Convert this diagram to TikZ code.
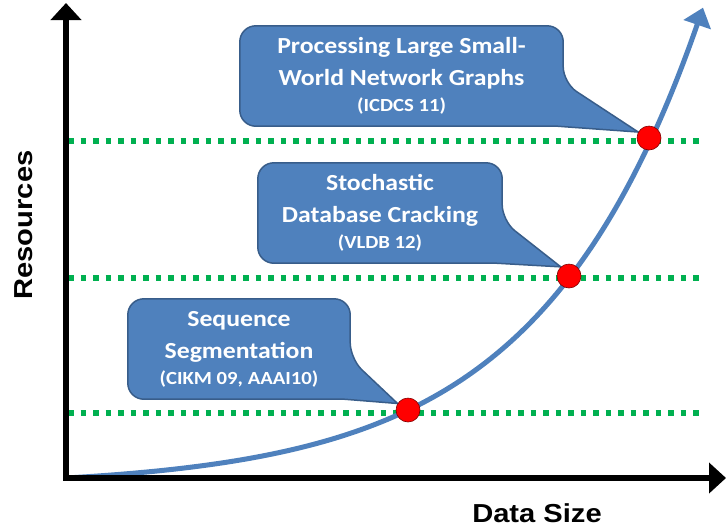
\documentclass[tikz,border=0pt]{standalone}
\usepackage{fontspec}
\setmainfont{Carlito}[FakeStretch=1.12]
\newfontfamily\axisfont{Liberation Sans}[FakeStretch=1.12]
\usetikzlibrary{arrows.meta,calc,backgrounds}
\definecolor{offblue}{HTML}{4F81BD}
\definecolor{offedge}{HTML}{385D8A}
\definecolor{offgreen}{HTML}{00B050}

\begin{document}
\begin{tikzpicture}[x=1pt, y=-1pt,
	axis/.style={line width=6pt, {Triangle[length=17pt,width=30pt]}-{Triangle[length=17pt,width=30pt]}},
	level/.style={offgreen, line width=5.5pt, dash pattern=on 5.5pt off 7pt},
	growth/.style={offblue, line width=5pt, -{Triangle[length=18pt,width=28pt]}},
	hit/.style={circle, fill=red, draw=red!50!black, line width=0.6pt, minimum size=24pt, inner sep=0pt},
	paper/.style={text=white, font=\fontsize{23}{32}\selectfont\bfseries, align=center, inner sep=0pt},
	bubble/.style={fill=offblue, draw=offedge, line width=1.5pt},
	axlabel/.style={font=\axisfont\bfseries\fontsize{26}{30}\selectfont}]
	 \useasboundingbox (0,0) rectangle (727,531);

	 \coordinate (origin) at (66,478);
	 \coordinate (ytop) at (66,3);
	 \coordinate (xend) at (726,478);

	 \foreach \y/\n in {141/3, 278/2, 413/1} {
	   \coordinate (gl\n) at (68,\y);
	   \coordinate (gr\n) at (705,\y);
	   \draw[level] (gl\n) -- (gr\n);
	 }

	 \draw[growth] plot[domain=66:703, samples=90, smooth] (\x, {478 - 9.27*(exp(0.0062*(\x-66))-1)});
	 \draw[axis] (ytop) -- (origin) -- (xend);

	 \node[axlabel, rotate=90] (resources) at (24,225) {Resources};
	 \node[axlabel] (datasize) at (537,513) {Data Size};

	 \node[hit] (hit1) at (408,410) {};
	 \node[hit] (hit2) at (569,276) {};
	 \node[hit] (hit3) at (649,138) {};

	 \node[paper, minimum width=323pt, minimum height=100pt] (box1) at (401.5,76)
	   {Processing Large Small-\\World Network Graphs\\[-6pt]{\fontsize{18.5}{20}\selectfont (ICDCS 11)}};
	 \node[paper, minimum width=244pt, minimum height=100pt] (box2) at (380,213)
	   {Stochastic\\Database Cracking\\[-6pt]{\fontsize{18.5}{20}\selectfont (VLDB 12)}};
	 \node[paper, minimum width=222pt, minimum height=100pt] (box3) at (239,349)
	   {Sequence\\Segmentation\\[-6pt]{\fontsize{18.5}{20}\selectfont (CIKM 09, AAAI10)}};

	 % callouts
	 \begin{scope}[on background layer]
	 \draw[bubble] (box1.west) [rounded corners=16pt] -- (box1.north west) -- (box1.north east) -- ($(box1.north east)+(0,57)$)
	   [sharp corners] -- (hit3.151) -- ($(box1.south east)+(-6,0)$) [rounded corners=16pt] -- (box1.south west) -- cycle;
	 \draw[bubble] (box2.west) [rounded corners=16pt] -- (box2.north west) -- (box2.north east) -- ($(box2.north east)+(0,58)$)
	   [sharp corners] -- (hit2.132) -- ($(box2.south east)+(-6,0)$) [rounded corners=16pt] -- (box2.south west) -- cycle;
	 \draw[bubble] (box3.west) [rounded corners=16pt] -- (box3.north west) -- (box3.north east) -- ($(box3.north east)+(0,60)$)
	   [sharp corners] -- (hit1.148) -- ($(box3.south east)+(-6,0)$) [rounded corners=16pt] -- (box3.south west) -- cycle;
	 \end{scope}
\end{tikzpicture}
\end{document}
